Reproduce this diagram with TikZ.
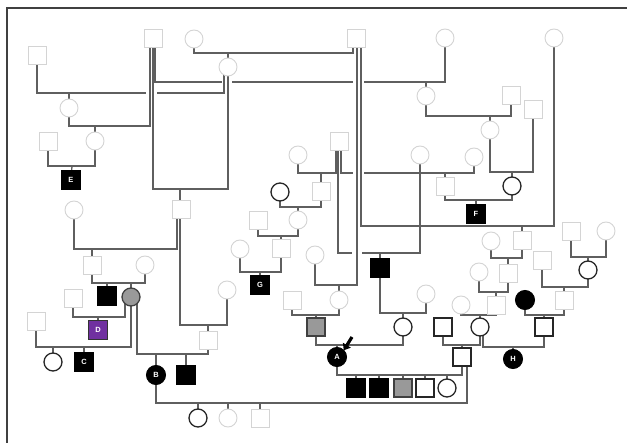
\documentclass[tikz,border=0pt]{standalone}
\usepackage{fontspec}
\setsansfont{Liberation Sans}
\usetikzlibrary{arrows.meta,backgrounds}
\definecolor{purp}{RGB}{112,48,160}
\definecolor{faintc}{RGB}{212,212,212}
\definecolor{linec}{RGB}{95,95,95}
\begin{document}
\begin{tikzpicture}[x=1pt,y=-1pt,
  sym/.style={inner sep=0pt,outer sep=0pt},
  sq/.style={sym,rectangle,minimum size=18pt},
  ci/.style={sym,circle,minimum size=18pt},
  faint/.style={draw=faintc,line width=0.9pt,fill=white},
  bold/.style={draw=black!85,line width=1.3pt,fill=white},
  aff/.style={draw=black,fill=black,line width=1pt,minimum size=19pt},
  gry/.style={draw=black!75,fill=black!40,line width=1.3pt},
  pur/.style={draw=black!80,fill=purp,line width=1.3pt,minimum size=19pt},
  lbl/.style={text=white,font=\sffamily\bfseries\fontsize{7.5}{8}\selectfont},
  ln/.style={draw=linec,line width=1.3pt},
  frame/.style={draw=black!75,line width=1.3pt}
]
\useasboundingbox (0,0) rectangle (627,443);
\draw[frame] (7,443) -- (7,8) -- (627,8);

% ---------- squares ----------
\node[sq,faint] (s1) at (37,55) {};
\node[sq,faint] (s2) at (153,38) {};
\node[sq,faint] (s3) at (356,38) {};
\node[sq,faint] (s4) at (48,141) {};
\node[sq,aff,lbl] (E) at (71,180) {E};
\node[sq,faint] (s5) at (181,209) {};
\node[sq,faint] (s6) at (92,265) {};
\node[sq,aff] (s7) at (107,296) {};
\node[sq,faint] (s8) at (73,298) {};
\node[sq,faint] (s9) at (36,321) {};
\node[sq,pur,lbl] (D) at (98,330) {D};
\node[sq,aff,lbl] (C) at (84,362) {C};
\node[sq,faint] (s10) at (208,340) {};
\node[sq,aff] (s11) at (186,375) {};
\node[sq,faint] (s12) at (260,418) {};
\node[sq,faint] (s13) at (339,141) {};
\node[sq,faint] (s14) at (321,191) {};
\node[sq,faint] (s15) at (258,220) {};
\node[sq,faint] (s16) at (281,248) {};
\node[sq,aff,lbl] (G) at (260,285) {G};
\node[sq,aff] (s17) at (380,268) {};
\node[sq,faint] (s18) at (292,300) {};
\node[sq,gry] (s19) at (316,327) {};
\node[sq,faint] (s20) at (511,95) {};
\node[sq,faint] (s21) at (533,109) {};
\node[sq,faint] (s22) at (445,186) {};
\node[sq,aff,lbl] (F) at (476,214) {F};
\node[sq,faint] (s23) at (522,240) {};
\node[sq,faint] (s24) at (508,273) {};
\node[sq,faint] (s25) at (571,231) {};
\node[sq,faint] (s26) at (542,260) {};
\node[sq,faint] (s27) at (496,305) {};
\node[sq,faint] (s28) at (564,300) {};
\node[sq,bold] (s29) at (443,327) {};
\node[sq,bold] (s30) at (544,327) {};
\node[sq,bold] (s31) at (462,357) {};
\node[sq,aff] (k1) at (356,388) {};
\node[sq,aff] (k2) at (379,388) {};
\node[sq,gry] (k3) at (403,388) {};
\node[sq,bold] (k4) at (425,388) {};
\node[ci,bold] (k5) at (447,388) {};

% ---------- circles ----------
\node[ci,faint] (c1) at (194,39) {};
\node[ci,faint] (c2) at (228,67) {};
\node[ci,faint] (c3) at (445,38) {};
\node[ci,faint] (c4) at (554,38) {};
\node[ci,faint] (c5) at (69,108) {};
\node[ci,faint] (c6) at (95,141) {};
\node[ci,faint] (c7) at (426,96) {};
\node[ci,faint] (c8) at (490,130) {};
\node[ci,faint] (c9) at (74,210) {};
\node[ci,faint] (c10) at (145,265) {};
\node[ci,gry] (c11) at (131,297) {};
\node[ci,bold] (c12) at (53,362) {};
\node[ci,faint] (c13) at (227,290) {};
\node[ci,aff,lbl] (B) at (156,375) {B};
\node[ci,bold] (c14) at (198,418) {};
\node[ci,faint] (c15) at (228,418) {};
\node[ci,faint] (c16) at (298,155) {};
\node[ci,bold] (c17) at (280,192) {};
\node[ci,faint] (c18) at (298,220) {};
\node[ci,faint] (c19) at (240,249) {};
\node[ci,faint] (c20) at (420,155) {};
\node[ci,faint] (c21) at (474,157) {};
\node[ci,bold] (c22) at (512,186) {};
\node[ci,faint] (c23) at (315,255) {};
\node[ci,faint] (c24) at (339,300) {};
\node[ci,bold] (c25) at (403,327) {};
\node[ci,aff,lbl] (A) at (337,357) {A};
\node[ci,faint] (c26) at (426,294) {};
\node[ci,faint] (c27) at (491,241) {};
\node[ci,faint] (c28) at (479,272) {};
\node[ci,faint] (c29) at (606,231) {};
\node[ci,bold] (c30) at (588,270) {};
\node[ci,aff] (c31) at (525,300) {};
\node[ci,faint] (c32) at (461,305) {};
\node[ci,bold] (c33) at (480,327) {};
\node[ci,aff,lbl] (H) at (513,359) {H};

% proband arrow
\coordinate (ptr) at (352,337);
\draw[line width=3.2pt,-{Triangle[length=6pt,width=9pt]}] (ptr) -- (A.north east);

\begin{scope}[on background layer]
% c1 x s3
\draw[ln] (c1.center) |- (353,53) -- ([xshift=-3]s3.center);
\draw[ln] (228,53) -- (c2.center);
% s2 x c3
\draw[ln] ([xshift=2]s2.center) |- (222,82);
\draw[ln] (232,82) -- (353,82);
\draw[ln] (364,82) -| (c3.center);
\draw[ln] (426,82) -- (c7.center);
% s1 x c2
\draw[ln] (s1.center) |- (146,93);
\draw[ln] (157,93) -| ([xshift=-4]c2.center);
\draw[ln] (69,93) -- (c5.center);
% s2 x c5
\draw[ln] ([xshift=-3]s2.center) |- (69,126) -- (c5.center);
\draw[ln] (95,126) -- (c6.center);
% s4 x c6
\draw[ln] (s4.center) |- (95,166) -- (c6.center);
\draw[ln] (72,166) -- (E.center);
% s2 x c2
\draw[ln] (s2.center) |- (228,189) -- (c2.center);
\draw[ln] (180,189) -- ([xshift=-1]s5.center);
% c9 x s5
\draw[ln] (c9.center) |- (177,249) -- ([xshift=-4]s5.center);
\draw[ln] (92,249) -- (s6.center);
% s6 x c10
\draw[ln] (s6.center) |- (145,283) -- (c10.center);
\draw[ln] (107,283) -- (s7.center);
\draw[ln] (131,283) -- (c11.center);
% s8 x c11
\draw[ln] (s8.center) |- (125,317) -- ([xshift=-6]c11.center);
\draw[ln] (98,317) -- (D.center);
% s9 x c11
\draw[ln] (s9.center) |- (131,347) -- (c11.center);
\draw[ln] (53,347) -- (c12.center);
\draw[ln] (84,347) -- (C.center);
% s5 x c13
\draw[ln] ([xshift=-1]s5.center) |- (227,325) -- (c13.center);
\draw[ln] (208,325) -- (s10.center);
% c11 x s10
\draw[ln] ([xshift=6]c11.center) |- (208,354) -- (s10.center);
\draw[ln] (156,354) -- (B.center);
\draw[ln] (186,354) -- (s11.center);
% B x s31
\draw[ln] (B.center) |- (467,403) -- ([xshift=5]s31.center);
\draw[ln] (198,403) -- (c14.center);
\draw[ln] (228,403) -- (c15.center);
\draw[ln] (260,403) -- (s12.center);
% c16 x s13
\draw[ln] (c16.center) |- (336,173) -- ([xshift=-3]s13.center);
\draw[ln] (321,173) -- (s14.center);
% s13 x c21
\draw[ln] ([xshift=2]s13.center) |- (353,173);
\draw[ln] (364,173) -| (c21.center);
\draw[ln] (445,173) -- (s22.center);
% s13 x c20
\draw[ln] ([xshift=-1]s13.center) |- (352,253);
\draw[ln] (362,253) -| (c20.center);
\draw[ln] (380,253) -- (s17.center);
% s3 x c23
\draw[ln] ([xshift=1]s3.center) |- (315,285) -- (c23.center);
\draw[ln] (339,285) -- (c24.center);
% s3 x c4
\draw[ln] ([xshift=5]s3.center) |- (554,226) -- (c4.center);
\draw[ln] (522,226) -- (s23.center);
% c17 x s14
\draw[ln] (c17.center) |- (321,207) -- (s14.center);
\draw[ln] (298,207) -- (c18.center);
% s15 x c18
\draw[ln] (s15.center) |- (298,236) -- (c18.center);
\draw[ln] (281,236) -- (s16.center);
% c19 x s16
\draw[ln] (c19.center) |- (281,272) -- (s16.center);
\draw[ln] (260,272) -- (G.center);
% s18 x c24
\draw[ln] (s18.center) |- (339,315) -- (c24.center);
\draw[ln] (316,315) -- (s19.center);
% s17 x c26
\draw[ln] (s17.center) |- (426,313) -- (c26.center);
\draw[ln] (403,313) -- (c25.center);
% s19 x c25
\draw[ln] (s19.center) |- (403,345) -- (c25.center);
\draw[ln] (337,345) -- (A.center);
% A x s31
\draw[ln] (A.center) |- (462,375) -- (s31.center);
\draw[ln] (356,375) -- (k1.center);
\draw[ln] (379,375) -- (k2.center);
\draw[ln] (403,375) -- (k3.center);
\draw[ln] (425,375) -- (k4.center);
\draw[ln] (447,375) -- (k5.center);
% s29 x c33
\draw[ln] (s29.center) |- (480,345) -- (c33.center);
\draw[ln] (462,345) -- (s31.center);
% c33 x s30
\draw[ln] ([xshift=3]c33.center) |- (544,347) -- (s30.center);
\draw[ln] (513,347) -- (H.center);
% c32 x s27
\draw[ln] (c32.center) |- (496,315) -- (s27.center);
\draw[ln] (480,315) -- (c33.center);
% c31 x s28
\draw[ln] (c31.center) |- (564,315) -- (s28.center);
\draw[ln] (544,315) -- (s30.center);
% s26 x c30
\draw[ln] (s26.center) |- (588,287) -- (c30.center);
\draw[ln] (564,287) -- (s28.center);
% s25 x c29
\draw[ln] (s25.center) |- (606,257) -- (c29.center);
\draw[ln] (588,257) -- (c30.center);
% c28 x s24
\draw[ln] (c28.center) |- (508,292) -- (s24.center);
\draw[ln] (496,292) -- (s27.center);
% c27 x s23
\draw[ln] (c27.center) |- (522,258) -- (s23.center);
\draw[ln] (508,258) -- (s24.center);
% s22 x c22
\draw[ln] (s22.center) |- (512,200) -- (c22.center);
\draw[ln] (476,200) -- (F.center);
% c8 x s21
\draw[ln] (c8.center) |- (533,172) -- (s21.center);
\draw[ln] (512,172) -- (c22.center);
% c7 x s20
\draw[ln] (c7.center) |- (511,116) -- (s20.center);
\draw[ln] (490,116) -- (c8.center);
\end{scope}
\end{tikzpicture}
\end{document}
